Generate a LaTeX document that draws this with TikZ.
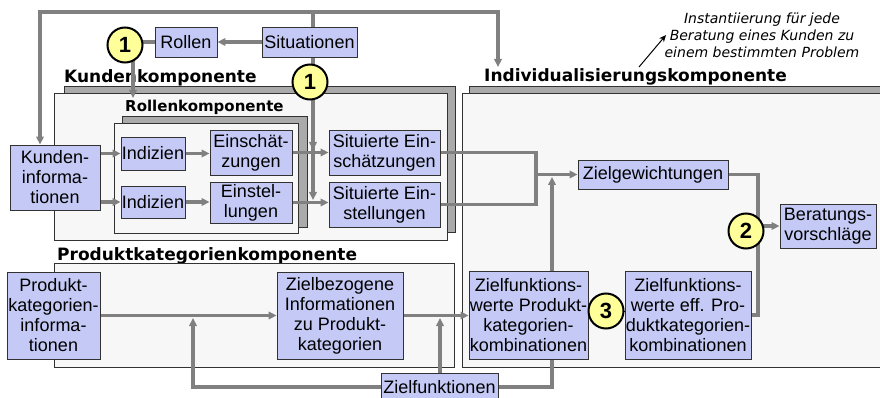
\documentclass[tikz,border=0pt]{standalone}
\usepackage{fontspec}
\setmainfont{Liberation Sans}
\newfontfamily\headfont{DejaVu Sans}
\usetikzlibrary{arrows.meta}
\pgfdeclarelayer{bg}
\pgfdeclarelayer{mid}
\pgfsetlayers{bg,mid,main}
\definecolor{boxfill}{RGB}{196,202,245}
\definecolor{boxline}{RGB}{50,50,50}
\definecolor{conngray}{RGB}{128,128,128}
\definecolor{circfill}{RGB}{255,255,153}
\definecolor{contfill}{RGB}{247,247,247}
\definecolor{shadowfill}{RGB}{170,170,170}
\tikzset{
  box/.style={draw=boxline, fill=boxfill, line width=0.9pt, inner sep=0pt, align=center, font=\fontsize{18}{20}\selectfont},
  conn/.style={draw=conngray, line width=3.2pt},
  arr/.style={conn, -{Triangle[length=8pt,width=7.5pt]}},
  num/.style={circle, draw=black, line width=2pt, fill=circfill, minimum size=35pt, inner sep=0pt, font=\fontsize{22}{22}\selectfont\bfseries},
  heading/.style={anchor=base west, inner sep=0pt, font=\headfont\bfseries\fontsize{17}{20}\selectfont},
  cfront/.style={draw=boxline, fill=contfill, line width=0.8pt},
  cshadow/.style={draw=boxline, fill=shadowfill, line width=0.8pt},
}
\begin{document}
\begin{tikzpicture}[x=1pt,y=-1pt]
\path[use as bounding box] (0,0) rectangle (880,398);
\clip (0,0) rectangle (880,398);
\begin{pgfonlayer}{bg}
\fill[white] (0,0) rectangle (880,398);
\node[heading] (hk) at (64,83) {Kundenkomponente};
\draw[cshadow] (64,86) rectangle (455,232);
\draw[cfront] (54,93) rectangle (447,240);
\node[heading, font=\headfont\bfseries\fontsize{15}{18}\selectfont] (hr) at (125,112) {Rollenkomponente};
\draw[cshadow] (122,116) rectangle (307,227);
\draw[cfront] (114,123) rectangle (298,233);
\node[heading] (hi) at (484,82) {Individualisierungskomponente};
\draw[cshadow] (469,86) rectangle (895,360);
\draw[cfront] (462,93) rectangle (895,367);
\node[heading] (hp) at (57,260) {Produktkategorienkomponente};
\draw[cfront] (54,263) rectangle (454,367);
\end{pgfonlayer}

\node[box, minimum width=62pt, minimum height=30pt] (rollen) at (186,42) {Rollen};
\node[box, minimum width=95pt, minimum height=30pt] (sit) at (309.5,42) {Situationen};
\node[box, minimum width=90pt, minimum height=65pt] (kinfo) at (55,177.5) {Kunden-\\informa-\\tionen};
\node[box, minimum width=64pt, minimum height=33pt] (ind1) at (153,153.5) {Indizien};
\node[box, minimum width=64pt, minimum height=32pt] (ind2) at (153,202) {Indizien};
\node[box, minimum width=82pt, minimum height=45pt] (ein1) at (251,152.5) {Einschät-\\zungen};
\node[box, minimum width=82pt, minimum height=41pt] (ein2) at (251,202.5) {Einstel-\\lungen};
\node[box, minimum width=111pt, minimum height=45pt] (sie1) at (384.5,152.5) {Situierte Ein-\\schätzungen};
\node[box, minimum width=111pt, minimum height=45pt] (sie2) at (384.5,204.5) {Situierte Ein-\\stellungen};
\node[box, minimum width=150pt, minimum height=29pt] (zg) at (653,174.5) {Zielgewichtungen};
\node[box, minimum width=96pt, minimum height=44pt] (berat) at (828,226) {Beratungs-\\vorschläge};
\node[box, minimum width=93pt, minimum height=87pt] (pkinfo) at (53.5,315.5) {Produkt-\\kategorien-\\informa-\\tionen};
\node[box, minimum width=126pt, minimum height=87pt] (zbi) at (340,315.5) {Zielbezogene\\Informationen\\zu Produkt-\\kategorien};
\node[box, minimum width=119pt, minimum height=88pt] (zfwp) at (528.5,315) {Zielfunktions-\\werte Produkt-\\kategorien-\\kombinationen};
\node[box, minimum width=126pt, minimum height=88pt] (zfwe) at (688,315) {Zielfunktions-\\werte eff. Pro-\\duktkategorien-\\kombinationen};
\node[box, minimum width=117pt, minimum height=27pt] (zf) at (439.5,387) {Zielfunktionen};

\node[num] (c1a) at (125,45) {1};
\node[num] (c1b) at (310,82) {1};
\node[num] (c2) at (746,231) {2};
\node[num] (c3) at (606,311) {3};

\coordinate (top) at (313,12);
\coordinate (topL) at (40,12);
\coordinate (topR) at (498,12);
\coordinate (indivhead) at (498,67);
\coordinate (rdown) at (133,98);
\coordinate (sd1) at (313,150);
\coordinate (sd2) at (313,200);
\coordinate (jx) at (536,174.5);
\coordinate (zup) at (552,177);
\coordinate (rcol) at (758,226);
\coordinate (up1) at (193,318);
\coordinate (up2) at (440,318);
\coordinate (noteS) at (639,67);
\coordinate (noteE) at (666,35);

\begin{pgfonlayer}{mid}
\draw[arr] ([xshift=3.5pt]sit.north) -- (top) -- (topL) -- (topL |- kinfo.north);
\draw[arr] (top) -- (topR) -- (indivhead);
\draw[arr] (sit.west) -- (rollen.east);
\draw[arr] (rollen.west) -| (rdown);
\draw[arr] ([xshift=3.5pt]sit.south) -- (sd2);
\draw[arr] ([xshift=3.5pt]sit.south) -- (sd1);
\draw[arr] (kinfo.east |- ind1.west) -- (ind1.west);
\draw[arr] (kinfo.east |- ind2.west) -- (ind2.west);
\draw[arr] (ind1.east) -- (ind1.east -| ein1.west);
\draw[arr] (ind2.east) -- (ind2.east -| ein2.west);
\draw[arr] (ein1.east) -- (ein1.east -| sie1.west);
\draw[arr] (ein2.east) -- (ein2.east -| sie2.west);
\draw[conn] (sie1.east) -| (jx);
\draw[conn] (sie2.east) -| (jx);
\draw[arr] (jx) -- (zg.west);
\draw[arr] (zup |- zfwp.north) -- (zup);
\draw[conn] (zg.east) -| (rcol |- zfwe.east) -- (zfwe.east);
\draw[arr] (rcol) -- (rcol -| berat.west);
\draw[arr] (pkinfo.east) -- (pkinfo.east -| zbi.west);
\draw[arr] (zbi.east) -- (zbi.east -| zfwp.west);
\draw[arr] (zf.west) -| (up1);
\draw[arr] (zf.north -| up2) -- (up2);
\draw[conn] (zf.east) -| (zfwp.south -| zup);
\draw[black, line width=1pt] (zfwp.east |- c3) -- (zfwe.west |- c3);
\end{pgfonlayer}

\node[font=\headfont\itshape\fontsize{14}{17}\selectfont, align=center, inner sep=0pt] (note) at (762,35) {Instantiierung für jede\\Beratung eines Kunden zu\\einem bestimmten Problem};
\draw[-{Stealth[length=7pt,width=6pt]}, line width=1pt] (noteS) -- (noteE);
\end{tikzpicture}
\end{document}
